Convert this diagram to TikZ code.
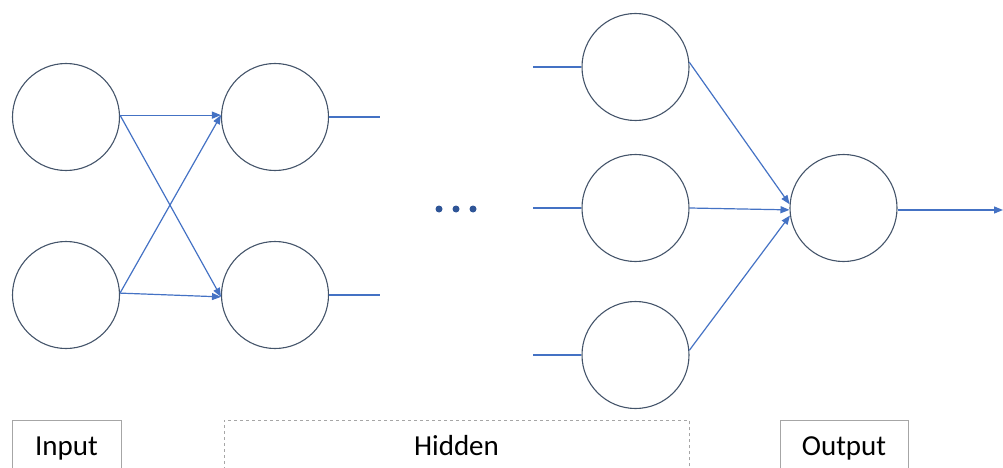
\documentclass[tikz,border=0pt]{standalone}
\usepackage{fontspec}
\setmainfont{Carlito}
\usetikzlibrary{arrows.meta}
\definecolor{circ}{HTML}{44546A}
\definecolor{arr}{HTML}{4472C4}
\definecolor{dotc}{HTML}{2F5597}
\definecolor{boxc}{HTML}{A6A6A6}
\tikzset{
  neuron/.style={circle, draw=circ, line width=1.1pt, minimum size=107pt, inner sep=0pt},
  conn/.style={draw=arr, line width=1.2pt, -{Triangle[length=9pt,width=7pt]}},
  plain/.style={draw=arr, line width=1.2pt},
  lbl/.style={draw=boxc, line width=0.9pt, minimum height=55pt, anchor=north, inner sep=0pt, font=\fontsize{29}{33}\selectfont, text height=20pt, text depth=5pt},
  dotstyle/.style={circle, fill=dotc, minimum size=7pt, inner sep=0pt}
}
\begin{document}
\begin{tikzpicture}[x=1pt,y=-1pt]
\clip (0,0) rectangle (1003,468);
\useasboundingbox (0,0) rectangle (1003,468);
% input layer
\node[neuron] (i1) at (66,117) {};
\node[neuron] (i2) at (66,295) {};
% first hidden layer
\node[neuron] (a1) at (275,117) {};
\node[neuron] (a2) at (275,295) {};
\coordinate (a1o) at (380,117);
\coordinate (a2o) at (380,295);
% dots
\node[dotstyle] (d1) at (439,209) {};
\node[dotstyle] (d2) at (456,209) {};
\node[dotstyle] (d3) at (473,209) {};
% last hidden layer
\node[neuron] (b1) at (635.5,67) {};
\node[neuron] (b2) at (635.5,208) {};
\node[neuron] (b3) at (635.5,355) {};
\coordinate (b1i) at (533,67);
\coordinate (b2i) at (533,208);
\coordinate (b3i) at (533,355);
% output
\node[neuron] (o) at (843.5,208) {};
\coordinate (oo) at (1003,210);
% connections
\draw[conn] (i1.2) -- (a1.178);
\draw[conn] (i1.2) -- (a2.182);
\draw[conn] (i2.2) -- (a1.178);
\draw[conn] (i2.2) -- (a2.182);
\draw[plain] (a1.east) -- (a1o);
\draw[plain] (a2.east) -- (a2o);
\draw[plain] (b1i) -- (b1.west);
\draw[plain] (b2i) -- (b2.west);
\draw[plain] (b3i) -- (b3.west);
\draw[conn] (b1.5) -- (o.176);
\draw[conn] (b2.east) -- (o.182);
\draw[conn] (b3.5) -- (o.188);
\draw[conn] (o.east |- oo) -- (oo);
% labels
\node[lbl, minimum width=109pt] (lin) at (66.5,420) {Input};
\node[lbl, minimum width=465pt, dashed] (lhid) at (456.5,420) {Hidden};
\node[lbl, minimum width=128pt] (lout) at (844,420) {Output};
\end{tikzpicture}
\end{document}
